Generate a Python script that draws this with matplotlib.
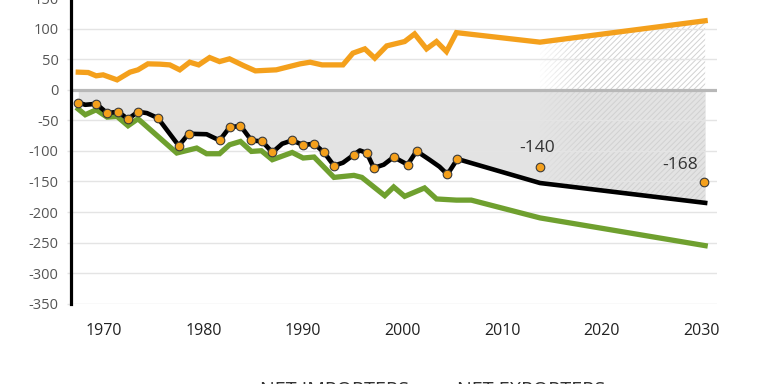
import numpy as np
import matplotlib
matplotlib.use("Agg")
import matplotlib.pyplot as plt
from matplotlib.transforms import ScaledTranslation

plt.rcParams['font.family'] = ['Open Sans', 'DejaVu Sans']
plt.rcParams['axes.unicode_minus'] = False

# ---------------- data ----------------
# black line: net balance (vertices)
bal_years = [1967.0, 1967.7, 1968.8, 1969.9, 1971.0, 1972.0, 1973.0, 1973.9, 1975.0,
             1977.1, 1978.1, 1979.9, 1981.2, 1982.2, 1983.3, 1984.4, 1985.5, 1986.5,
             1987.5, 1988.5, 1989.6, 1990.7, 1991.7, 1992.7, 1993.6, 1994.7, 1995.3,
             1996.0, 1996.7, 1997.7, 1998.7, 2000.1, 2001.0, 2002.3, 2003.3, 2004.1,
             2005.1, 2013.4, 2030.0]
bal_values = [-20.8, -24.5, -22.9, -38.1, -35.9, -47.9, -35.9, -38.1, -46.2,
              -91.5, -71.9, -72.7, -82.8, -61.6, -58.8, -82.8, -84.5, -102.5,
              -88.2, -82.8, -90.4, -88.2, -102.5, -124.2, -119.3, -106.2, -99.2,
              -103.4, -127.9, -122.5, -110.0, -122.5, -100.2, -114.4, -125.8, -138.4,
              -113.2, -152.5, -185.0]

# orange dots on the black line
dot_years = [1967.0, 1968.8, 1969.9, 1971.0, 1972.0, 1973.0, 1975.0, 1977.1, 1978.1,
             1981.2, 1982.2, 1983.3, 1984.4, 1985.5, 1986.5, 1988.5, 1989.6, 1990.7,
             1991.7, 1992.7, 1994.7, 1996.0, 1996.7, 1998.7, 2000.1, 2001.0, 2004.1,
             2005.1]
dot_values = [-20.8, -22.9, -38.1, -35.9, -47.9, -35.9, -46.2, -91.5, -71.9,
              -82.8, -61.6, -58.8, -82.8, -84.5, -102.5, -82.8, -90.4, -88.2,
              -102.5, -124.2, -106.2, -103.4, -127.9, -110.0, -122.5, -100.2, -138.4,
              -113.2]

# projection dots with labels
proj_years = [2013.4, 2029.9]
proj_values = [-126.3, -151.4]
proj_labels = ["-140", "-168"]
proj_label_years = [2013.1, 2027.5]
proj_label_values = [-95.3, -122.5]

# orange line: net exporters
exp_years = [1967.0, 1968.0, 1968.8, 1969.5, 1970.9, 1972.2, 1973.0, 1974.0, 1975.2,
             1976.2, 1977.2, 1978.2, 1979.1, 1980.2, 1981.2, 1982.2, 1983.6, 1984.8,
             1986.9, 1989.3, 1990.3, 1991.5, 1993.6, 1994.6, 1995.8, 1996.8, 1998.0,
             1999.8, 2000.8, 2002.0, 2003.0, 2004.0, 2005.0, 2013.4, 2030.0]
exp_values = [28.9, 28.3, 22.9, 24.5, 16.3, 28.9, 32.7, 42.5, 42.0,
              40.8, 32.7, 45.2, 40.8, 52.8, 46.2, 50.7, 39.7, 31.0,
              32.7, 42.5, 45.2, 40.8, 40.8, 60.0, 67.0, 51.8, 71.9,
              79.0, 91.5, 67.0, 79.0, 62.6, 93.6, 78.0, 113.0]

# green line: net importers
imp_years = [1967.0, 1967.7, 1968.8, 1969.9, 1970.9, 1972.0, 1973.0, 1976.9, 1978.9,
             1979.9, 1981.2, 1982.2, 1983.3, 1984.4, 1985.4, 1986.5, 1988.5, 1989.6,
             1990.7, 1992.7, 1994.7, 1995.5, 1997.8, 1998.7, 1999.8, 2001.8, 2003.0,
             2005.0, 2006.5, 2013.4, 2030.0]
imp_values = [-31.5, -40.8, -32.7, -44.7, -43.6, -58.8, -47.4, -103.4, -95.3,
              -104.6, -104.6, -89.9, -84.5, -100.8, -99.7, -114.4, -102.5, -111.6,
              -110.0, -143.3, -140.0, -143.3, -173.2, -159.0, -174.3, -160.6, -178.6,
              -180.5, -180.5, -209.6, -255.0]

y_ticks = [-350, -300, -250, -200, -150, -100, -50, 0, 50, 100, 150]
x_ticks = [1970, 1980, 1990, 2000, 2010, 2020, 2030]
legend_labels = ["NET IMPORTERS", "NET EXPORTERS"]

# ---------------- styling ----------------
ORANGE = '#f4a01c'
GREEN = '#6fa02f'
GRID = '#e4e4e4'
FILL = '#e3e3e3'

fig = plt.figure(figsize=(7.68, 3.84), dpi=100)
ax = fig.add_axes([71 / 768, 1 - 303.7 / 384, 646 / 768, 0.7957])
ax.set_xlim(1966.27, 2031.19)
ax.set_ylim(-350, 150)

ax.set_yticks(y_ticks)
ax.set_yticklabels([str(v) for v in y_ticks])
ax.set_xticks(x_ticks)
ax.set_xticklabels([str(v) for v in x_ticks])

ax.grid(axis='y', color=GRID, linewidth=1.0, zorder=0)
ax.grid(axis='x', visible=False)
ax.tick_params(axis='y', length=3, width=1, color=GRID, pad=6,
               labelsize=10.5, labelcolor='#555555')
ax.tick_params(axis='x', length=0, pad=14, labelsize=11.5, labelcolor='#222222')
offset = ScaledTranslation(-4 / 100, 0, fig.dpi_scale_trans)
for lbl in ax.get_xticklabels():
    lbl.set_transform(lbl.get_transform() + offset)

for s in ['top', 'right', 'bottom']:
    ax.spines[s].set_visible(False)
ax.spines['left'].set_color('black')
ax.spines['left'].set_linewidth(2.3)
ax.spines['left'].set_zorder(6)

# shaded area between zero and net balance
ax.fill_between(bal_years, 0, bal_values, color=FILL, linewidth=0, zorder=1)

# hatched projection region between exporters and balance lines, fading in
plt.rcParams['hatch.linewidth'] = 0.7
h_start, h_end = bal_years[-2], bal_years[-1]
edges = np.linspace(h_start, h_start + 4.5, 10)
edges = np.append(edges, h_end)
for i in range(len(edges) - 1):
    xs = np.array([edges[i], edges[i + 1]])
    top = np.interp(xs, exp_years, exp_values)
    bot = np.interp(xs, bal_years, bal_values)
    a = min(1.0, (i + 1) / (len(edges) - 2))
    ax.fill_between(xs, top, bot, facecolor='none',
                    edgecolor=(0.82, 0.82, 0.82, a),
                    hatch='//////', linewidth=0, zorder=1.5)

ax.axhline(0, color='#b8b8b8', linewidth=2.3, zorder=2)

ax.plot(imp_years, imp_values, color=GREEN, linewidth=3.8, zorder=3,
        solid_joinstyle='miter', solid_capstyle='projecting')
ax.plot(exp_years, exp_values, color=ORANGE, linewidth=3.8, zorder=3,
        solid_joinstyle='miter', solid_capstyle='projecting')
ax.plot(bal_years, bal_values, color='black', linewidth=3.3, zorder=4,
        solid_joinstyle='round', solid_capstyle='projecting')
ax.plot(dot_years, dot_values, linestyle='none', marker='o', markersize=6.2,
        markerfacecolor=ORANGE, markeredgecolor='#3a3a3a', markeredgewidth=0.8, zorder=5)
ax.plot(proj_years, proj_values, linestyle='none', marker='o', markersize=6.2,
        markerfacecolor=ORANGE, markeredgecolor='#3a3a3a', markeredgewidth=0.8, zorder=5)
for lx, ly, t in zip(proj_label_years, proj_label_values, proj_labels):
    ax.text(lx, ly, t, ha='center', va='center', fontsize=12.5, color='#333333',
            zorder=6)

# legend labels (cut off at the bottom in the reference)
fig.text(260 / 768, 0.009, legend_labels[0], ha='left', va='top', fontsize=14.2,
         color='#333333')
fig.text(457 / 768, 0.009, legend_labels[1], ha='left', va='top', fontsize=14.2,
         color='#333333')

fig.savefig('out.png', dpi=100)
